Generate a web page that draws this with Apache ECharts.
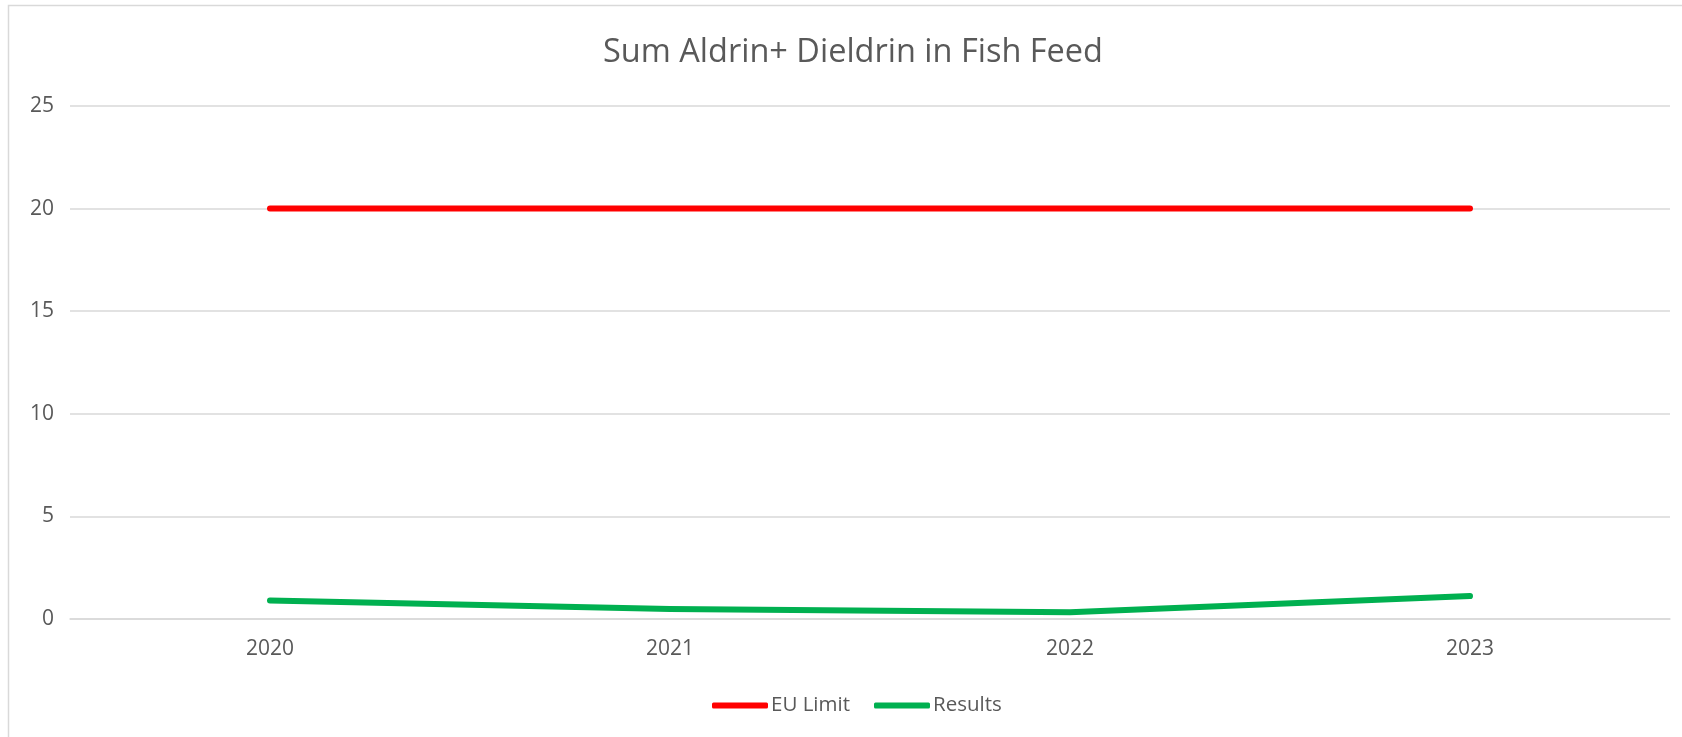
<!DOCTYPE html>
<html>
<head>
<meta charset="utf-8">
<script src="https://cdn.jsdelivr.net/npm/echarts@6/dist/echarts.min.js"></script>
<style>
  html, body { margin: 0; padding: 0; background: #fff; }
  #chart { width: 1682px; height: 737px; }
</style>
</head>
<body>
<div id="chart"></div>
<script>
// data
const years = ['2020', '2021', '2022', '2023']
const euLimit = [20, 20, 20, 20]
const results = [0.9, 0.49, 0.33, 1.12]
const yTicks = { min: 0, max: 25, interval: 5 }

const labelColor = '#595959'
const gridColor = '#d9d9d9'
const font = '"Open Sans", "Noto Sans", sans-serif'

const chart = echarts.init(document.getElementById('chart'))

const option = {
  animation: false,
  backgroundColor: '#fff',
  // chart area border like the spreadsheet frame
  graphic: [{
    type: 'rect',
    silent: true,
    shape: { x: 8.5, y: 5.5, width: 1700, height: 800 },
    style: { fill: 'none', stroke: gridColor, lineWidth: 1.5 }
  }],
  title: {
    text: 'Sum Aldrin+ Dieldrin in Fish Feed',
    left: 598,
    top: 31,
    textStyle: {
      fontFamily: font,
      fontWeight: 'normal',
      fontSize: 32.5,
      color: labelColor
    }
  },
  legend: {
    data: ['EU Limit', 'Results'],
    left: 707,
    top: 690,
    icon: 'roundRect',
    itemWidth: 56,
    itemHeight: 6,
    itemGap: 24,
    textStyle: {
      fontFamily: font,
      fontSize: 20.5,
      color: labelColor,
      padding: [0, 0, 0, -2]
    }
  },
  grid: {
    left: 70,
    right: 12,
    top: 106,
    bottom: 118,
    containLabel: false
  },
  xAxis: {
    type: 'category',
    data: years,
    boundaryGap: true,
    axisLine: { lineStyle: { color: gridColor, width: 1.5 } },
    axisTick: { show: false },
    axisLabel: {
      color: labelColor,
      fontFamily: font,
      fontSize: 21,
      margin: 20
    }
  },
  yAxis: {
    type: 'value',
    min: yTicks.min,
    max: yTicks.max,
    interval: yTicks.interval,
    axisLine: { show: false },
    axisTick: { show: false },
    axisLabel: {
      color: labelColor,
      fontFamily: font,
      fontSize: 21,
      margin: 16
    },
    splitLine: { lineStyle: { color: gridColor, width: 1.5 } }
  },
  series: [
    {
      name: 'EU Limit',
      type: 'line',
      data: euLimit,
      symbol: 'none',
      itemStyle: { color: '#ff0000' },
      lineStyle: { color: '#ff0000', width: 6, cap: 'round' }
    },
    {
      name: 'Results',
      type: 'line',
      data: results,
      symbol: 'none',
      itemStyle: { color: '#00b050' },
      lineStyle: { color: '#00b050', width: 6, cap: 'round', join: 'round' }
    }
  ]
}

chart.setOption(option)
</script>
</body>
</html>
